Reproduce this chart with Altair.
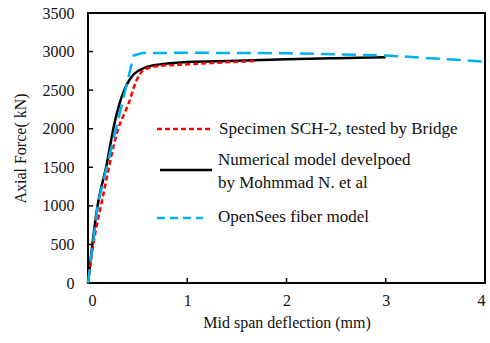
import altair as alt
import pandas as pd

# Specimen SCH-2 (test, red dashed)
red_x = [0, 0.05, 0.15, 0.30, 0.41, 0.49, 0.56, 0.70, 1.0, 1.3, 1.68]
red_y = [0, 470, 1120, 1980, 2330, 2630, 2760, 2810, 2835, 2855, 2878]
# Numerical model (black solid)
blk_x = [0, 0.09, 0.19, 0.26, 0.34, 0.44, 0.59, 0.8, 1.0, 1.5, 2.0, 2.5, 3.0]
blk_y = [0, 950, 1550, 2030, 2415, 2675, 2800, 2845, 2865, 2880, 2900, 2915, 2926]
# OpenSees fiber model (blue dashed)
blu_x = [0, 0.10, 0.41, 0.46, 0.55, 1.0, 2.0, 3.0, 4.0]
blu_y = [0, 1030, 2680, 2950, 2980, 2985, 2978, 2950, 2870]

x_ticks = [0, 1, 2, 3, 4]
y_ticks = [0, 500, 1000, 1500, 2000, 2500, 3000, 3500]

leg_labels = ["Specimen SCH-2, tested by Bridge", "Numerical model develpoed", " by Mohmmad N. et al", "OpenSees fiber model"]
leg_pos = [(131, 116), (130, 147), (130, 170), (130, 204)]

W, H = 397, 270
FONT = "Liberation Serif"
FS = 16
LFS = 17

def df(xs, ys):
    return pd.DataFrame({"x": xs, "y": ys})

xs = alt.Scale(domain=[0, 4], nice=False)
ys = alt.Scale(domain=[0, 3500], nice=False)

axis_common = dict(grid=False, ticks=False, domain=False, labelFont=FONT, titleFont=FONT, labelFontSize=FS,
                   titleFontSize=FS, labelColor="#111", titleColor="#111", titleFontWeight="normal",
                   labelOverlap=False, format="d")
ax_x = alt.Axis(values=x_ticks, title="Mid span deflection (mm)", labelPadding=9, titlePadding=6, **axis_common)
ax_y = alt.Axis(values=y_ticks, title="Axial Force( kN)", labelPadding=14, titlePadding=14, **axis_common)

def X():
    return alt.X("x:Q", scale=xs, axis=ax_x)

def Y():
    return alt.Y("y:Q", scale=ys, axis=ax_y)

black = alt.Chart(df(blk_x, blk_y)).mark_line(color="black", strokeWidth=2.5, interpolate="monotone").encode(x=X(), y=Y())
red = alt.Chart(df(red_x, red_y)).mark_line(color="#FF0000", strokeWidth=2.5, strokeDash=[5, 3],
                                            interpolate="monotone").encode(x=X(), y=Y())
blue = alt.Chart(df(blu_x, blu_y)).mark_line(color="#00B0F0", strokeWidth=2.5, strokeDash=[14, 7]).encode(x=X(), y=Y())

xticks = alt.Chart(pd.DataFrame({"x": x_ticks[1:-1]})).mark_rule(color="black", strokeWidth=1.5).encode(
    x=X(), y=alt.value(H), y2=alt.value(H - 5))
yticks = alt.Chart(pd.DataFrame({"y": y_ticks[1:-1]})).mark_rule(color="black", strokeWidth=1.5).encode(
    y=Y(), x=alt.value(0), x2=alt.value(5))

one = pd.DataFrame({"a": [0]})
# legend
leg_red = alt.Chart(one).mark_rule(color="#FF0000", strokeWidth=2.5, strokeDash=[5, 3]).encode(
    x=alt.value(69), x2=alt.value(125), y=alt.value(116))
leg_blk = alt.Chart(one).mark_rule(color="black", strokeWidth=2.5).encode(
    x=alt.value(72), x2=alt.value(124), y=alt.value(157))
leg_blu = alt.Chart(one).mark_rule(color="#00B0F0", strokeWidth=2.5, strokeDash=[8, 5]).encode(
    x=alt.value(69), x2=alt.value(115), y=alt.value(205))

texts = []
for lab, (px, py) in zip(leg_labels, leg_pos):
    texts.append(alt.Chart(one).mark_text(align="left", baseline="middle", font=FONT, fontSize=LFS, color="#111").encode(
        x=alt.value(px), y=alt.value(py), text=alt.value(lab)))

chart = alt.layer(black, red, blue, xticks, yticks, leg_red, leg_blk, leg_blu, *texts).properties(
    width=W, height=H, padding={"left": 88, "top": 13, "right": 5, "bottom": 60},
    autosize=alt.AutoSizeParams(type="none"), background="white"
).configure_view(stroke="black", strokeWidth=2)

chart.save("out.html", embed_options={"renderer": "svg", "actions": False})
